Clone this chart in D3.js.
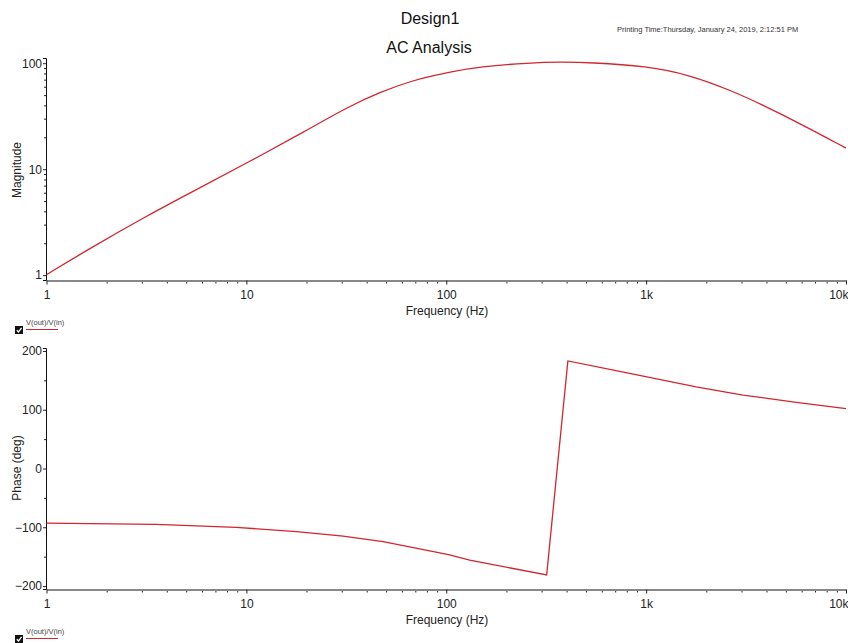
<!DOCTYPE html>
<html>
<head>
<meta charset="utf-8">
<script src="https://cdn.jsdelivr.net/npm/d3@7"></script>
<style>
    body { margin: 0; background: #fff; }
    svg { display: block; font-family: "Liberation Sans", Arial, sans-serif; }
</style>
</head>
<body>
<svg id="chart" width="848" height="643"></svg>
<script>
// values
const magFreq = [1, 1.6, 3.17, 5.22, 10, 20, 31.8, 46.6, 68.2, 82.9, 104, 147, 262, 371, 524, 1007, 1658, 2628, 3843, 6092, 10000]
const magnitude = [1.01, 1.73, 3.62, 5.96, 11.36, 23.2, 38.2, 53.5, 68.7, 74.9, 82.6, 93.1, 100.9, 102.7, 101.6, 94.1, 77.4, 55.9, 40.3, 26.1, 15.8]

const phaseFreq = [1, 3.56, 8.9, 17.8, 30.5, 48.3, 82.7, 104, 131, 318, 406, 827, 1780, 3050, 5640, 10000]
const phase = [-93, -95, -100, -107.5, -115, -124.5, -140, -147, -156, -181, 183, 162, 139, 125, 112.6, 102]

const freqTicks = [1, 10, 100, 1000, 10000]
const freqTickLabels = ["1", "10", "100", "1k", "10k"]
const magTicks = [1, 10, 100]
const phaseTicks = [-200, -100, 0, 100, 200]
const phaseMinorTicks = [-150, -50, 50, 150]

const traceName = "V(out)/V(in)"
const traceColor = "#d0262e"

const svg = d3.select("#chart")

const x = d3.scaleLog().domain([1, 10000]).range([46.5, 846])
const yMag = d3.scaleLog().domain([0.9, 112]).range([280, 58])
const yPhase = d3.scaleLinear().domain([-205, 205]).range([589, 348])

const freqMinor = []
for (const dec of [1, 10, 100, 1000]) {
    for (let k = 2; k <= 9; k++) freqMinor.push(dec * k)
}
const magMinor = []
for (const dec of [1, 10]) {
    for (let k = 2; k <= 9; k++) magMinor.push(dec * k)
}

// titles
svg.append("text")
    .attr("x", 430).attr("y", 24)
    .attr("text-anchor", "middle")
    .attr("font-size", 16).attr("fill", "#111")
    .text("Design1")
svg.append("text")
    .attr("x", 429).attr("y", 53)
    .attr("text-anchor", "middle")
    .attr("font-size", 16).attr("fill", "#111")
    .text("AC Analysis")
svg.append("text")
    .attr("x", 617).attr("y", 32)
    .attr("font-size", 7.5).attr("fill", "#333")
    .text("Printing Time:Thursday, January 24, 2019, 2:12:51 PM")

function styleAxis(g) {
    g.selectAll("text").attr("font-size", 12).attr("fill", "#222")
        .style("font-family", "'Liberation Sans', Arial, sans-serif")
    g.selectAll("line").attr("stroke", "#222")
}

function drawPanel(y, bottom, ticks, minor, ylabel, labelY, freqs, vals, curve, legendY) {
    // minor x ticks
    svg.append("g")
        .attr("transform", `translate(0, ${bottom})`)
        .call(d3.axisBottom(x).tickValues(freqMinor).tickSize(3).tickFormat(""))
        .call((g) => g.select(".domain").remove())
        .call(styleAxis)

    // left axis
    svg.append("g")
        .attr("transform", "translate(46, 0)")
        .call(d3.axisLeft(y).tickValues(minor).tickSize(2).tickFormat(""))
        .call((g) => g.select(".domain").remove())
        .call(styleAxis)
    svg.append("g")
        .attr("transform", "translate(46, 0)")
        .call(d3.axisLeft(y).tickValues(ticks).tickSize(3).tickSizeOuter(3).tickPadding(1).tickFormat(d3.format("d")))
        .call(styleAxis)
        .call((g) => g.select(".domain").attr("stroke", "#111"))

    // bottom axis
    svg.append("g")
        .attr("transform", `translate(0, ${bottom})`)
        .call(d3.axisBottom(x).tickValues(freqTicks).tickSize(4).tickSizeOuter(0).tickPadding(6)
            .tickFormat((d, i) => freqTickLabels[i]))
        .call(styleAxis)
        .call((g) => g.select(".domain").attr("stroke", "#888").attr("stroke-width", 2))
        .call((g) => g.selectAll(".tick text")
            .filter((d) => d === 10000)
            .attr("text-anchor", "end").attr("dx", 2))

    svg.append("text")
        .attr("x", 447).attr("y", bottom + 34)
        .attr("text-anchor", "middle")
        .attr("font-size", 12).attr("fill", "#222")
        .text("Frequency (Hz)")

    svg.append("text")
        .attr("transform", `translate(21, ${labelY}) rotate(-90)`)
        .attr("text-anchor", "middle")
        .attr("font-size", 12).attr("fill", "#222")
        .text(ylabel)

    const data = freqs.map((f, i) => [f, vals[i]])
    svg.append("path")
        .datum(data)
        .attr("fill", "none")
        .attr("stroke", traceColor)
        .attr("stroke-width", 1.3)
        .attr("d", d3.line().curve(curve).x((d) => x(d[0])).y((d) => y(d[1])))

    // legend
    const lg = svg.append("g").attr("transform", `translate(15, ${legendY})`)
    lg.append("rect").attr("x", 0).attr("y", 0).attr("width", 8).attr("height", 8).attr("fill", "#111")
    lg.append("path")
        .attr("d", "M1.8,4.2 L3.5,6 L6.6,1.8")
        .attr("fill", "none").attr("stroke", "#fff").attr("stroke-width", 1.3)
    lg.append("text")
        .attr("x", 11).attr("y", -1)
        .attr("font-size", 7.5).attr("fill", "#444")
        .text(traceName)
    lg.append("line")
        .attr("x1", 11).attr("x2", 43).attr("y1", 3.5).attr("y2", 3.5)
        .attr("stroke", traceColor).attr("stroke-width", 1)
}

drawPanel(yMag, 280.5, magTicks, magMinor, "Magnitude", 170,
    magFreq, magnitude, d3.curveBasis, 326)
drawPanel(yPhase, 589.5, phaseTicks, phaseMinorTicks, "Phase (deg)", 468,
    phaseFreq, phase, d3.curveLinear, 635)
</script>
</body>
</html>
